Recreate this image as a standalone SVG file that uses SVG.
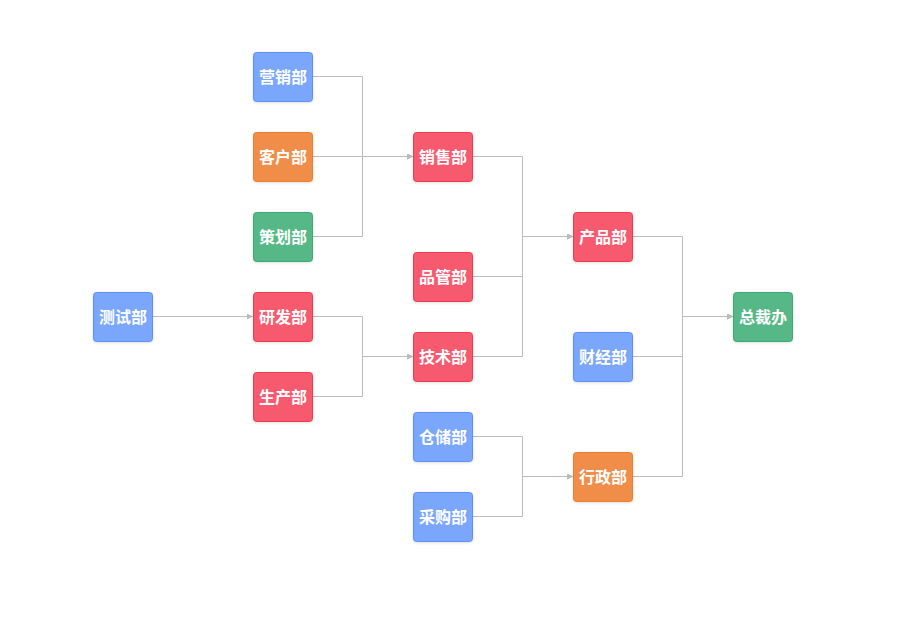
<svg xmlns="http://www.w3.org/2000/svg" width="898" height="617" viewBox="0 0 898 617">
<defs>
<marker id="arr" viewBox="0 0 10 10" refX="10" refY="5" markerWidth="6" markerHeight="6" markerUnits="userSpaceOnUse" orient="auto">
<path d="M0,0 L10,5 L0,10 z" fill="#bbbbbb"/>
</marker>
<filter id="sh" x="-20%" y="-20%" width="140%" height="150%">
<feDropShadow dx="0" dy="1" stdDeviation="1.5" flood-color="#000" flood-opacity="0.12"/>
</filter>
</defs>
<style>
.n rect{stroke-width:1;filter:url(#sh)}
.b rect{fill:#7aa6fc;stroke:#5b8ff9}
.o rect{fill:#f08e48;stroke:#ee7a2a}
.r rect{fill:#f75a6e;stroke:#ee3a50}
.g rect{fill:#55b886;stroke:#3aa96f}
.n text{fill:#fff;font-family:"Noto Sans CJK SC","Noto Sans",sans-serif;font-size:16px;font-weight:bold;text-anchor:middle;dominant-baseline:central}
.e path{fill:none;stroke:#bbbbbb;stroke-width:1;marker-end:url(#arr)}
</style>
<rect width="898" height="617" fill="#fff"/>
<g id="edges" class="e" transform="translate(0.5,-0.5)">
<path d="M312.5,77 H362 V157 H412.5"/>
<path d="M312.5,157 H362 V157 H412.5"/>
<path d="M312.5,237 H362 V157 H412.5"/>
<path d="M152.5,317 H252.5"/>
<path d="M312.5,317 H362 V357 H412.5"/>
<path d="M312.5,397 H362 V357 H412.5"/>
<path d="M472.5,157 H522 V237 H572.5"/>
<path d="M472.5,277 H522 V237 H572.5"/>
<path d="M472.5,357 H522 V237 H572.5"/>
<path d="M472.5,437 H522 V477 H572.5"/>
<path d="M472.5,517 H522 V477 H572.5"/>
<path d="M632.5,237 H682 V317 H732.5"/>
<path d="M632.5,357 H682 V317 H732.5"/>
<path d="M632.5,477 H682 V317 H732.5"/>
</g>
<g id="n-yingxiao" class="n b"><rect x="253.5" y="52.5" width="59" height="49" rx="3"/><text x="283" y="76">营销部</text></g>
<g id="n-kehu" class="n o"><rect x="253.5" y="132.5" width="59" height="49" rx="3"/><text x="283" y="156">客户部</text></g>
<g id="n-cehua" class="n g"><rect x="253.5" y="212.5" width="59" height="49" rx="3"/><text x="283" y="236">策划部</text></g>
<g id="n-ceshi" class="n b"><rect x="93.5" y="292.5" width="59" height="49" rx="3"/><text x="123" y="316">测试部</text></g>
<g id="n-yanfa" class="n r"><rect x="253.5" y="292.5" width="59" height="49" rx="3"/><text x="283" y="316">研发部</text></g>
<g id="n-shengchan" class="n r"><rect x="253.5" y="372.5" width="59" height="49" rx="3"/><text x="283" y="396">生产部</text></g>
<g id="n-xiaoshou" class="n r"><rect x="413.5" y="132.5" width="59" height="49" rx="3"/><text x="443" y="156">销售部</text></g>
<g id="n-pinguan" class="n r"><rect x="413.5" y="252.5" width="59" height="49" rx="3"/><text x="443" y="276">品管部</text></g>
<g id="n-jishu" class="n r"><rect x="413.5" y="332.5" width="59" height="49" rx="3"/><text x="443" y="356">技术部</text></g>
<g id="n-cangchu" class="n b"><rect x="413.5" y="412.5" width="59" height="49" rx="3"/><text x="443" y="436">仓储部</text></g>
<g id="n-caigou" class="n b"><rect x="413.5" y="492.5" width="59" height="49" rx="3"/><text x="443" y="516">采购部</text></g>
<g id="n-chanpin" class="n r"><rect x="573.5" y="212.5" width="59" height="49" rx="3"/><text x="603" y="236">产品部</text></g>
<g id="n-caijing" class="n b"><rect x="573.5" y="332.5" width="59" height="49" rx="3"/><text x="603" y="356">财经部</text></g>
<g id="n-xingzheng" class="n o"><rect x="573.5" y="452.5" width="59" height="49" rx="3"/><text x="603" y="476">行政部</text></g>
<g id="n-zongcai" class="n g"><rect x="733.5" y="292.5" width="59" height="49" rx="3"/><text x="763" y="316">总裁办</text></g>
</svg>
